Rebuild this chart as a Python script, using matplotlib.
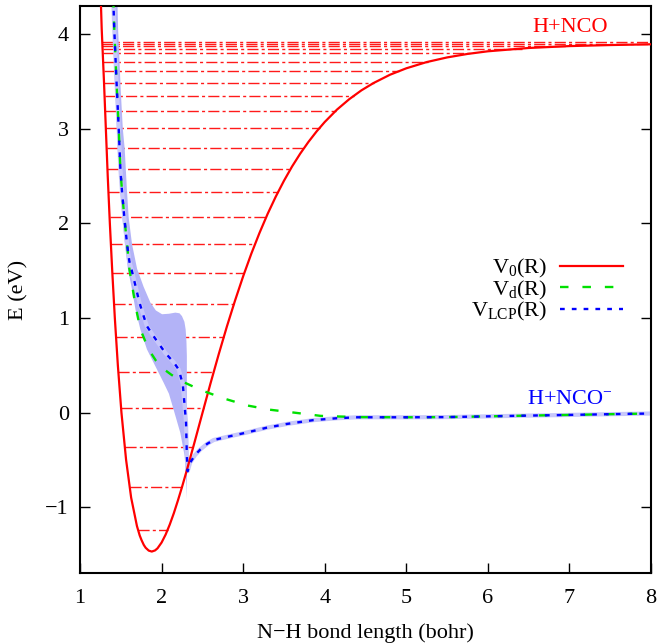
import numpy as np
import matplotlib
matplotlib.use('Agg')
import matplotlib.pyplot as plt

plt.rcParams['font.family'] = ['Liberation Serif', 'DejaVu Serif']
plt.rcParams['mathtext.fontset'] = 'custom'
plt.rcParams['mathtext.rm'] = 'Liberation Serif'
plt.rcParams['mathtext.it'] = 'Liberation Serif:italic'
plt.rcParams['mathtext.bf'] = 'Liberation Serif:bold'
plt.rcParams['axes.unicode_minus'] = True

# ---------------- data ----------------
# V0(R): left (repulsive) wall, R ascending down to the minimum
v0_left_R = [1.25, 1.266, 1.294, 1.317, 1.340, 1.366, 1.395, 1.427, 1.464, 1.508,
             1.565, 1.627, 1.698, 1.732, 1.755, 1.782, 1.805, 1.8425, 1.88]
v0_left_E = [4.5, 4.06, 3.5, 3.0, 2.5, 2.0, 1.5, 1.0, 0.5, 0.0,
             -0.5, -0.9, -1.2, -1.3, -1.35, -1.40, -1.43, -1.46, -1.47]
# V0(R): right branch, from the minimum out to the H+NCO asymptote
v0_right_R = [1.88, 1.92, 1.95, 2.0, 2.05, 2.1, 2.15, 2.2, 2.25, 2.3, 2.4, 2.5, 2.6,
              2.7, 2.8, 2.9, 3.0, 3.1, 3.2, 3.3, 3.4, 3.5, 3.6, 3.7, 3.8, 3.9, 4.0,
              4.15, 4.3, 4.45, 4.6, 4.8, 5.0, 5.25, 5.5, 5.75, 6.0, 6.5,
              7.0, 7.5, 8.0]
v0_right_E = [-1.47, -1.458, -1.436, -1.375, -1.29, -1.185, -1.065, -0.931, -0.789,
              -0.639, -0.327, -0.008, 0.309, 0.615, 0.908, 1.183, 1.441, 1.680, 1.899,
              2.101, 2.284, 2.451, 2.603, 2.739, 2.862, 2.973, 3.073,
              3.204, 3.314, 3.408, 3.486, 3.573, 3.641, 3.707, 3.756, 3.793, 3.821, 3.856,
              3.876, 3.887, 3.895]

# vibrational levels of V0 (eV)
levels = [-1.24, -0.79, -0.36, 0.05, 0.43, 0.80, 1.15, 1.48, 1.78, 2.07, 2.33, 2.58,
          2.80, 3.01, 3.19, 3.35, 3.49, 3.61, 3.71, 3.80, 3.85, 3.875, 3.895, 3.915]

# Vd(R)
vd_R = [1.405, 1.42, 1.446, 1.475, 1.495, 1.516, 1.544, 1.577, 1.605, 1.64, 1.68,
        1.74, 1.84, 1.93, 2.01, 2.12, 2.25, 2.475, 2.76, 3.05, 3.33, 3.62, 3.95,
        4.4, 5.0, 5.5, 6.0, 6.5, 7.0, 7.5, 8.0]
vd_E = [4.45, 4.06, 3.53, 3.0, 2.58, 2.33, 2.06, 1.78, 1.52, 1.34, 1.13,
        0.88, 0.67, 0.55, 0.47, 0.40, 0.33, 0.24, 0.15, 0.075, 0.03, 0.0, -0.035,
        -0.048, -0.05, -0.048, -0.04, -0.032, -0.025, -0.017, -0.01]

# VLCP(R)
vlcp_R = [1.405, 1.42, 1.446, 1.475, 1.495, 1.516, 1.544, 1.577, 1.605, 1.63, 1.68,
          1.73, 1.78, 1.82, 1.90, 1.973, 2.047, 2.15, 2.21, 2.26, 2.28, 2.30, 2.31,
          2.32, 2.35, 2.41, 2.475, 2.56, 2.64, 2.84, 3.05, 3.29, 3.54, 3.86, 4.15,
          4.4, 5.0, 5.5, 6.0, 6.5, 7.0, 7.5, 8.0]
vlcp_E = [4.45, 4.06, 3.53, 3.0, 2.58, 2.33, 2.06, 1.78, 1.60, 1.52, 1.34,
          1.16, 1.02, 0.915, 0.81, 0.72, 0.63, 0.53, 0.456, 0.30, 0.10, -0.11, -0.46,
          -0.62, -0.53, -0.45, -0.39, -0.33, -0.29, -0.25, -0.21, -0.16, -0.12, -0.08, -0.06,
          -0.05, -0.05, -0.048, -0.04, -0.032, -0.025, -0.017, -0.01]

# width band around VLCP: right/upper edge and left/lower edge (top to bottom)
band_upper_R = [1.455, 1.467, 1.50, 1.525, 1.548, 1.577, 1.597, 1.638, 1.70, 1.78,
                1.863, 1.93, 2.006, 2.09, 2.169, 2.22, 2.25, 2.28, 2.295, 2.305, 2.31,
                2.31, 2.312]
band_upper_E = [4.5, 4.06, 3.4, 3.0, 2.79, 2.33, 2.06, 1.78, 1.52, 1.33,
                1.163, 1.08, 1.04, 1.045, 1.057, 1.05, 1.02, 0.96, 0.88, 0.75, 0.6,
                -0.92, -0.98]
band_lower_R = [1.398, 1.405, 1.435, 1.462, 1.49, 1.52, 1.555, 1.587, 1.638, 1.68,
                1.74, 1.82, 1.924, 2.026, 2.09, 2.148, 2.23, 2.283, 2.30, 2.31, 2.312]
band_lower_E = [4.5, 4.06, 3.4, 2.79, 2.4, 2.06, 1.75, 1.52, 1.30, 1.09,
                0.88, 0.67, 0.49, 0.315, 0.2, 0.03, -0.215, -0.46, -0.675, -0.92, -0.98]

labels = [r'V$_{\mathrm{0}}$(R)', r'V$_{\mathrm{d}}$(R)', r'V$_{\mathrm{LCP}}$(R)']

FS = 16

# ---------------- figure ----------------
W, H = 657, 644
fig = plt.figure(figsize=(W / 100, H / 100), dpi=100)
ax = fig.add_axes([80 / W, 1 - 573.3 / H, (651 - 80) / W, (573.3 - 6) / H])

lr = np.asarray(v0_left_R); le = np.asarray(v0_left_E)
rr = np.asarray(v0_right_R); re_ = np.asarray(v0_right_E)

# vibrational levels
for E in levels:
    r1 = np.interp(E, le[::-1], lr[::-1])
    r2 = np.interp(E, re_, rr, right=8.0)
    ax.plot([r1, r2], [E, E], color='#ff1a1a', lw=1.0,
            linestyle=(0, (8, 2.3, 2.2, 2.3)), zorder=1)

# band
poly_R = list(band_upper_R) + list(band_lower_R[::-1])
poly_E = list(band_upper_E) + list(band_lower_E[::-1])
ax.fill(poly_R, poly_E, color='#b3b3f7', lw=0, zorder=2)
ax.plot(vlcp_R, vlcp_E, color='#c8c8fa', lw=3.0, zorder=2.5, solid_capstyle='round')

# curves
l0, = ax.plot(np.concatenate([lr, rr[1:]]), np.concatenate([le, re_[1:]]),
              color='#ff0000', lw=1.6, zorder=3, label=labels[0],
              solid_joinstyle='round')
l1, = ax.plot(vd_R, vd_E, color='#00e000', lw=1.7, linestyle=(0, (3.6, 5.9)),
              zorder=4, label=labels[1])
l2, = ax.plot(vlcp_R, vlcp_E, color='#0000ff', lw=1.7, linestyle=(0, (2.0, 3.0)),
              zorder=5, label=labels[2])

ax.set_xlim(1, 8)
ax.set_ylim(-1.7, 4.3)
ax.set_xticks(range(1, 9))
ax.set_yticks([-1, 0, 1, 2, 3, 4])

ax.tick_params(axis='x', direction='in', length=7, width=1.0, labelsize=FS, pad=11,
               top=False)
ax.tick_params(axis='y', direction='in', length=7, width=1.0, labelsize=FS, pad=8,
               right=True)
for s in ax.spines.values():
    s.set_linewidth(1.5)

ax.set_xlabel('N\u2212H bond length (bohr)', fontsize=FS, labelpad=11)
ax.set_ylabel('E (eV)', fontsize=FS, labelpad=12)

ax.text(6.54, 4.03, 'H+NCO', color='#ff0000', fontsize=FS, ha='left', va='baseline')
ax.text(6.48, 0.095, r'H+NCO$^{\mathrm{-}}$', color='#0000ff', fontsize=FS,
        ha='left', va='baseline')

leg = ax.legend(handles=[l0, l1, l2], loc='center right',
                bbox_to_anchor=(0.951, 0.499), frameon=False, fontsize=FS,
                markerfirst=False, handlelength=2.85, handletextpad=0.55,
                labelspacing=-0.06, borderpad=0, borderaxespad=0)

fig.savefig('out.png', dpi=100)
